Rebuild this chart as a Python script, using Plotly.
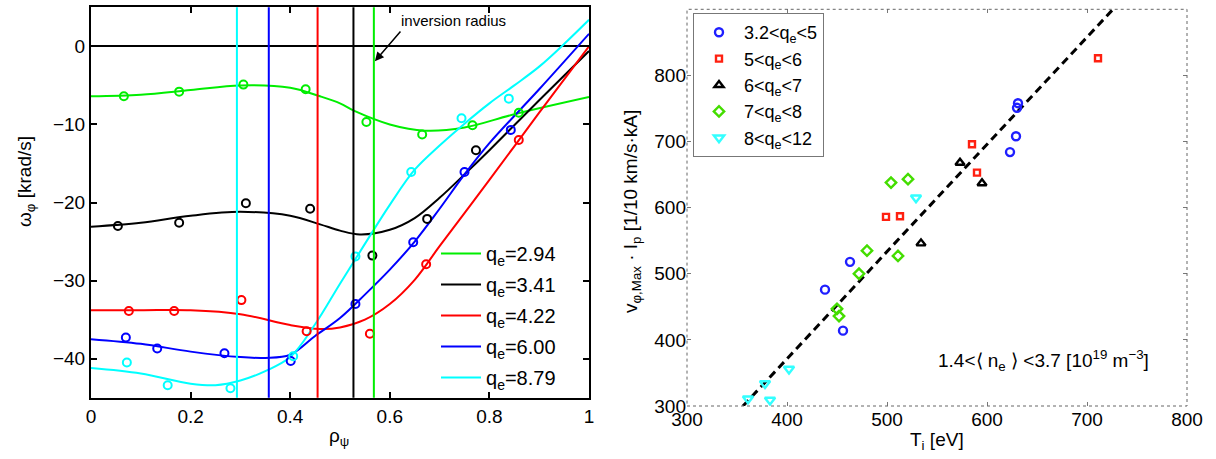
import plotly.graph_objects as go

# ---------------- Left panel data ----------------
q_labels = ["2.94", "3.41", "4.22", "6.00", "8.79"]
q_colors = ["#00ee00", "#000000", "#ff0000", "#0000ff", "#00ffff"]
inversion_radius = [0.568, 0.527, 0.455, 0.357, 0.293]

green_fit_rho = [0, 0.1, 0.2, 0.3, 0.4, 0.46, 0.5, 0.53, 0.6, 0.67, 0.75, 0.85, 1.0]
green_fit_w = [-6.4, -6.2, -5.6, -5.0, -5.3, -6.4, -7.3, -8.3, -10.0, -10.8, -10.4, -8.7, -6.5]
black_fit_rho = [0, 0.1, 0.2, 0.3, 0.4, 0.46, 0.5, 0.54, 0.6, 0.65, 0.7, 0.75, 0.8, 0.9, 1.0]
black_fit_w = [-23.1, -22.6, -21.7, -21.2, -21.7, -22.8, -23.6, -24.1, -23.5, -22.0, -19.4, -16.4, -13.3, -6.9, -0.6]
red_fit_rho = [0, 0.1, 0.2, 0.3, 0.4, 0.46, 0.5, 0.55, 0.6, 0.65, 0.7, 0.8, 0.9, 1.0]
red_fit_w = [-33.8, -33.8, -33.8, -34.3, -35.7, -36.2, -36.0, -35.0, -33.0, -29.9, -25.6, -17.1, -8.5, 0.0]
blue_fit_rho = [0, 0.1, 0.2, 0.3, 0.35, 0.4, 0.45, 0.5, 0.55, 0.6, 0.65, 0.7, 0.75, 0.8, 0.9, 1.0]
blue_fit_w = [-37.5, -38.1, -39.1, -39.8, -39.9, -39.5, -37.1, -34.8, -31.8, -28.6, -25.0, -20.8, -16.4, -12.4, -5.5, 1.6]
cyan_fit_rho = [0, 0.1, 0.2, 0.25, 0.3, 0.35, 0.4, 0.45, 0.5, 0.55, 0.6, 0.65, 0.7, 0.75, 0.8, 0.85, 0.9, 0.95, 1.0]
cyan_fit_w = [-41.2, -41.9, -43.2, -43.4, -42.8, -41.6, -39.8, -35.6, -30.4, -25.3, -20.3, -15.8, -12.7, -9.9, -7.3, -5.0, -2.6, 0.3, 3.4]

green_pts_rho = [0.066, 0.177, 0.306, 0.431, 0.553, 0.665, 0.766, 0.859]
green_pts_w = [-6.4, -5.8, -4.9, -5.5, -9.7, -11.3, -10.1, -8.5]
black_pts_rho = [0.054, 0.177, 0.311, 0.44, 0.565, 0.675, 0.773]
black_pts_w = [-23.0, -22.6, -20.1, -20.8, -26.8, -22.1, -13.3]
red_pts_rho = [0.076, 0.167, 0.302, 0.433, 0.56, 0.673, 0.859]
red_pts_w = [-33.9, -33.9, -32.5, -36.5, -36.8, -27.9, -12.0]
blue_pts_rho = [0.070, 0.133, 0.268, 0.401, 0.531, 0.647, 0.75, 0.843]
blue_pts_w = [-37.3, -38.7, -39.3, -40.3, -33.0, -25.1, -16.1, -10.7]
cyan_pts_rho = [0.072, 0.154, 0.28, 0.406, 0.531, 0.643, 0.744, 0.839]
cyan_pts_w = [-40.5, -43.4, -43.8, -39.7, -26.9, -16.1, -9.2, -6.7]

fits = [(green_fit_rho, green_fit_w), (black_fit_rho, black_fit_w), (red_fit_rho, red_fit_w),
        (blue_fit_rho, blue_fit_w), (cyan_fit_rho, cyan_fit_w)]
pts = [(green_pts_rho, green_pts_w), (black_pts_rho, black_pts_w), (red_pts_rho, red_pts_w),
       (blue_pts_rho, blue_pts_w), (cyan_pts_rho, cyan_pts_w)]

# ---------------- Right panel data ----------------
group_labels = ["3.2&lt;q<sub>e</sub>&lt;5", "5&lt;q<sub>e</sub>&lt;6", "6&lt;q<sub>e</sub>&lt;7",
                "7&lt;q<sub>e</sub>&lt;8", "8&lt;q<sub>e</sub>&lt;12"]
group_colors = ["#1f1fff", "#ff2010", "#000000", "#44dd00", "#33ffff"]
group_symbols = ["circle-open", "square-open", "triangle-up-open", "diamond-open", "triangle-down-open"]
group_sizes = [8, 6, 8, 8, 9]

Ti_q1 = [631, 630, 629, 623, 463, 438, 456]
v_q1 = [758, 751, 708, 684, 518, 476, 414]
Ti_q2 = [711, 585, 590, 499, 513]
v_q2 = [826, 696, 653, 586, 587]
Ti_q3 = [573, 595, 534]
v_q3 = [668, 637, 546]
Ti_q4 = [504, 521, 480, 511, 472, 450, 452]
v_q4 = [638, 643, 535, 527, 500, 447, 436]
Ti_q5 = [529, 402, 378, 361, 383]
v_q5 = [615, 356, 334, 311, 309]
groups = [(Ti_q1, v_q1), (Ti_q2, v_q2), (Ti_q3, v_q3), (Ti_q4, v_q4), (Ti_q5, v_q5)]

fit_Ti = [356, 726]
fit_v = [300, 900]

W, H = 1216, 459
fig = go.Figure()

# left panel
for i, ((fx, fy), lab, col) in enumerate(zip(fits, q_labels, q_colors)):
    fig.add_trace(go.Scatter(x=fx, y=fy, mode="lines", line=dict(color=col, width=2, shape="spline", smoothing=1.0),
                             name="q<sub>e</sub>=" + lab, legendgroup="L%d" % i,
                             xaxis="x", yaxis="y", legend="legend"))
for (px, py), col in zip(pts, q_colors):
    fig.add_trace(go.Scatter(x=px, y=py, mode="markers", showlegend=False,
                             marker=dict(symbol="circle-open", size=8, color=col, line=dict(width=2, color=col)),
                             xaxis="x", yaxis="y"))

# right panel
fig.add_trace(go.Scatter(x=fit_Ti, y=fit_v, mode="lines", showlegend=False,
                         line=dict(color="black", width=3, dash="8px,5px"), xaxis="x2", yaxis="y2"))
for (tx, vy), lab, col, sym, sz in zip(groups, group_labels, group_colors, group_symbols, group_sizes):
    fig.add_trace(go.Scatter(x=tx, y=vy, mode="markers", name=lab, legend="legend2",
                             marker=dict(symbol=sym, size=sz, color=col, line=dict(width=2.4, color=col)),
                             xaxis="x2", yaxis="y2"))

shapes = []
for r, col in zip(inversion_radius, q_colors):
    shapes.append(dict(type="line", xref="x", yref="y domain", x0=r, x1=r, y0=0, y1=1,
                       line=dict(color=col, width=2)))
shapes.append(dict(type="rect", xref="x2 domain", yref="y2 domain", x0=0, x1=1, y0=0, y1=1,
                   line=dict(color="#666", width=1, dash="dot")))

FONT = "Liberation Sans, Arial, Helvetica, sans-serif"

annotations = [
    dict(x=0.570, y=-1.9, ax=0.624, ay=2.1, xref="x", yref="y", axref="x", ayref="y", text="",
         showarrow=True, arrowhead=2, arrowsize=1.2, arrowwidth=1.5, arrowcolor="black"),
    dict(x=0.618, y=3.3, xref="x", yref="y", text="inversion radius", showarrow=False,
         xanchor="left", yanchor="middle", font=dict(size=15, color="black", family=FONT)),
    dict(x=339 / W, y=1 - 437 / H, xref="paper", yref="paper", text="ρ<sub>ψ</sub>", showarrow=False,
         xanchor="center", yanchor="middle", font=dict(size=19, color="black", family=FONT)),
    dict(x=26 / W, y=1 - 182 / H, xref="paper", yref="paper", text="ω<sub>φ</sub> [krad/s]", showarrow=False,
         textangle=-90, xanchor="center", yanchor="middle", font=dict(size=19, color="black", family=FONT)),
    dict(x=937 / W, y=1 - 441 / H, xref="paper", yref="paper", text="T<sub>i</sub> [eV]", showarrow=False,
         xanchor="center", yanchor="middle", font=dict(size=19, color="black", family=FONT)),
    dict(x=632 / W, y=1 - 212 / H, xref="paper", yref="paper",
         text="v<sub>φ,Max</sub> · I<sub>p</sub> [1/10 km/s·kA]", showarrow=False,
         textangle=-90, xanchor="center", yanchor="middle", font=dict(size=19, color="black", family=FONT)),
    dict(x=1043 / W, y=1 - 360 / H, xref="paper", yref="paper",
         text="1.4&lt;⟨ n<sub>e</sub> ⟩ &lt;3.7 [10<sup>19</sup> m<sup>−3</sup>]", showarrow=False,
         xanchor="center", yanchor="middle", font=dict(size=19, color="black", family=FONT)),
]

axis_left = dict(showline=True, linecolor="black", linewidth=2, mirror="ticks", ticks="inside",
                 ticklen=6, tickwidth=1.5, tickcolor="black", showgrid=False, automargin=False,
                 tickfont=dict(size=19, color="black", family=FONT))
axis_right = dict(showline=False, mirror="ticks", ticks="inside", ticklen=4, tickwidth=1,
                  tickcolor="#777", showgrid=False, zeroline=False, automargin=False,
                  tickfont=dict(size=19, color="black", family=FONT))

fig.update_layout(
    width=W, height=H, margin=dict(l=0, r=0, t=0, b=0, autoexpand=False),
    paper_bgcolor="white", plot_bgcolor="white",
    font=dict(family=FONT, color="black"),
    xaxis=dict(domain=[91 / W, 589 / W], range=[0, 1], tickvals=[0, 0.2, 0.4, 0.6, 0.8, 1],
               ticktext=["0", "0.2", "0.4", "0.6", "0.8", "1"], zeroline=False, anchor="y", **axis_left),
    yaxis=dict(domain=[1 - 397.7 / H, 1 - 7.3 / H], range=[-45, 5], tickvals=[-40, -30, -20, -10, 0],
               zeroline=True, zerolinecolor="black", zerolinewidth=2, anchor="x", **axis_left),
    xaxis2=dict(domain=[687 / W, 1187 / W], range=[300, 800], tickvals=[300, 400, 500, 600, 700, 800],
                anchor="y2", **axis_right),
    yaxis2=dict(domain=[1 - 406 / H, 1 - 9.3 / H], range=[300, 900],
                tickvals=[300, 400, 500, 600, 700, 800, 900], anchor="x2", **axis_right),
    legend=dict(x=436 / W, y=1 - 234 / H, xanchor="left", yanchor="top", bgcolor="rgba(255,255,255,0)",
                borderwidth=0, itemwidth=40, tracegroupgap=2,
                font=dict(size=20, color="black", family=FONT)),
    legend2=dict(x=693 / W, y=1 - 13 / H, xanchor="left", yanchor="top", bgcolor="white",
                 bordercolor="#777", borderwidth=1, itemwidth=40,
                 font=dict(size=18, color="black", family=FONT)),
    shapes=shapes, annotations=annotations,
)

fig.write_html("out.html")
